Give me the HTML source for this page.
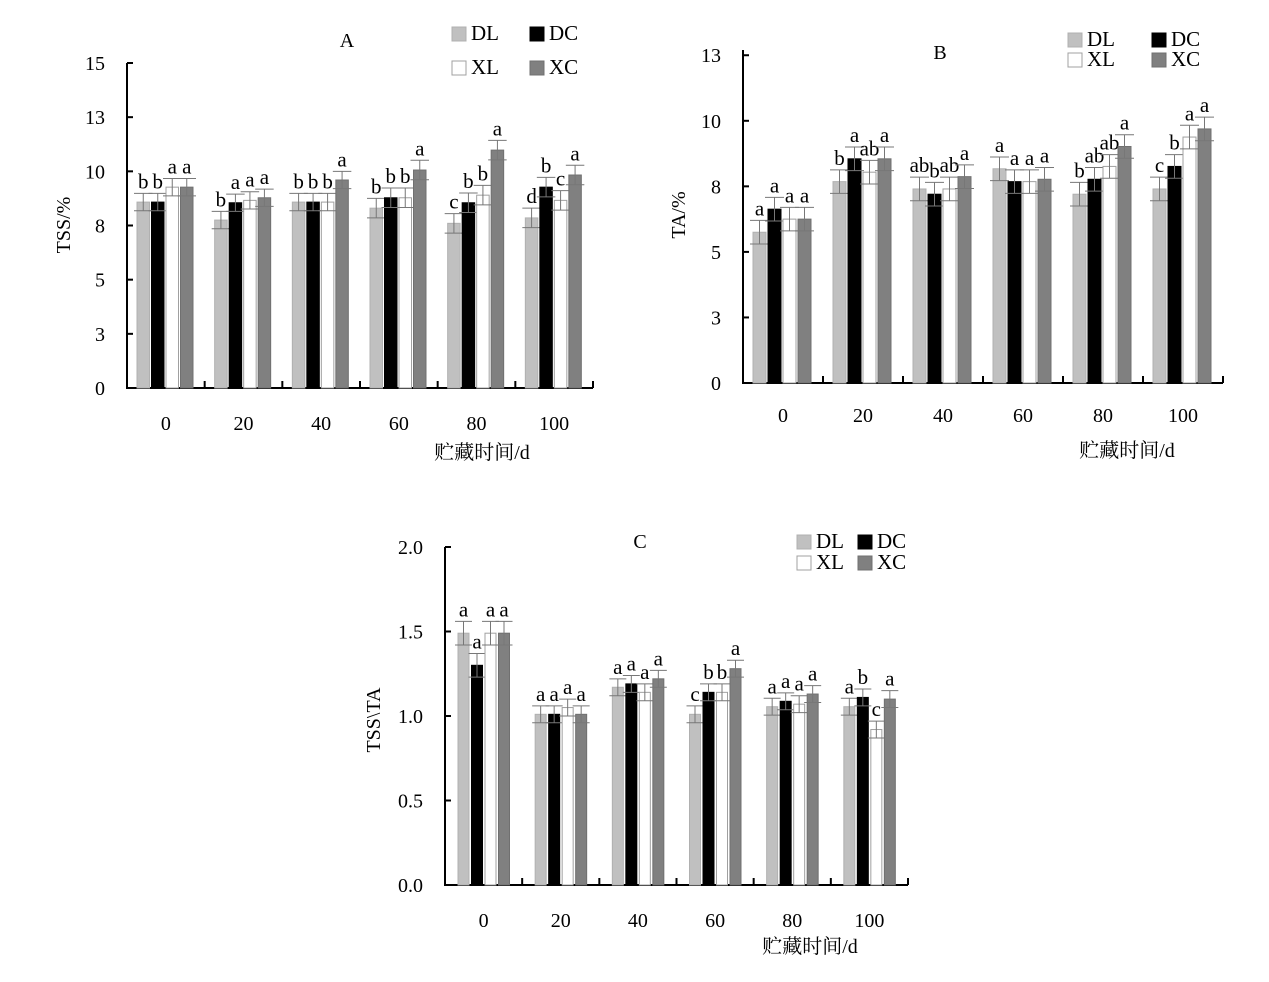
<!DOCTYPE html>
<html><head><meta charset="utf-8">
<style>
body{margin:0;background:#fff;}
svg text{font-family:"Liberation Serif","Noto Serif CJK SC",serif;fill:#000;}
</style></head>
<body>
<svg id="svg" width="1269" height="977" viewBox="0 0 1269 977" xmlns="http://www.w3.org/2000/svg"></svg>
<script>
const categories = ["0","20","40","60","80","100"];
const seriesNames = ["DL","DC","XL","XC"];
// Chart A: TSS/%
const tssDL = [8.58, 7.75, 8.58, 8.3, 7.6, 7.85];
const tssDC = [8.58, 8.55, 8.58, 8.78, 8.55, 9.27];
const tssXL = [9.27, 8.66, 8.58, 8.78, 8.9, 8.66];
const tssXC = [9.27, 8.78, 9.6, 10.06, 10.98, 9.83];
const tssErr = [0.4, 0.4, 0.4, 0.45, 0.45, 0.45];
const tssLetters = [["b","b","a","a"],["b","a","a","a"],["b","b","b","a"],["b","b","b","a"],["c","b","b","a"],["d","b","c","a"]];
const tssTicks = ["0","3","5","8","10","13","15"];
// Chart B: TA/%
const taDL = [5.75, 7.68, 7.4, 8.17, 7.2, 7.4];
const taDC = [6.63, 8.55, 7.2, 7.68, 7.77, 8.26];
const taXL = [6.25, 8.04, 7.4, 7.68, 8.26, 9.38];
const taXC = [6.25, 8.55, 7.87, 7.77, 9.02, 9.69];
const taErr = [0.45, 0.45, 0.45, 0.45, 0.45, 0.45];
const taLetters = [["a","a","a","a"],["b","a","ab","a"],["ab","b","ab","a"],["a","a","a","a"],["b","ab","ab","a"],["c","b","a","a"]];
const taTicks = ["0","3","5","8","10","13"];
// Chart C: TSS\TA
const rDL = [1.49, 1.01, 1.17, 1.01, 1.055, 1.055];
const rDC = [1.30, 1.01, 1.19, 1.14, 1.087, 1.11];
const rXL = [1.49, 1.05, 1.14, 1.14, 1.07, 0.92];
const rXC = [1.49, 1.01, 1.22, 1.28, 1.13, 1.10];
const rErr = [0.07, 0.05, 0.05, 0.05, 0.05, 0.05];
const rLetters = [["a","a","a","a"],["a","a","a","a"],["a","a","a","a"],["c","b","b","a"],["a","a","a","a"],["a","b","c","a"]];
const rTicks = ["0.0","0.5","1.0","1.5","2.0"];

const NS="http://www.w3.org/2000/svg";
const svg=document.getElementById('svg');
const fills=["#c0c0c0","#000000","#ffffff","#808080"];
const strokes=["#b0b0b0","#000000","#a0a0a0","#707070"];
function mk(tag,attrs,parent){const e=document.createElementNS(NS,tag);for(const k in attrs)e.setAttribute(k,attrs[k]);(parent||svg).appendChild(e);return e;}

function chart(c){
  const g=mk('g',{});
  
  
  const y=v=>c.y0-(v/c.max)*(c.y0-c.yTop);
  const gw=(c.x1-c.x0)/categories.length;
  const x=i=>c.x0+i*gw;
  const ya=mk('line',{x1:c.x0,y1:c.yTop,x2:c.x0,y2:c.y0+1,stroke:'#000','stroke-width':2},g);
  
  
  const xa=mk('line',{x1:c.x0-1,y1:c.y0,x2:c.x1,y2:c.y0,stroke:'#000','stroke-width':2},g);
  
  
  c.ticks.forEach((t,i)=>{
    const v=i*c.step, yy=y(v);
    mk('line',{x1:c.x0,y1:yy,x2:c.x0+6,y2:yy,stroke:'#000','stroke-width':2},g);
    const tx=mk('text',{x:c.x0-22,y:yy+7,'font-size':20,'text-anchor':'end'},g);
    tx.textContent=t;
    
    
  });
  mk('line',{x1:c.x1,y1:c.y0,x2:c.x1,y2:c.y0-7,stroke:'#000','stroke-width':2},g);
  categories.forEach((cat,i)=>{
    if(i>0) mk('line',{x1:x(i),y1:c.y0,x2:x(i),y2:c.y0-7,stroke:'#000','stroke-width':2},g);
    const tx=mk('text',{x:x(i)+gw/2,y:c.tickY,'font-size':20,'text-anchor':'middle'},g);
    tx.textContent=cat;
    
    
    c.series.forEach((s,j)=>{
      const v=s[i], bx=x(i)+c.off+j*c.pitch, by=y(v);
      const r=mk('rect',{x:bx,y:by,width:c.bw,height:c.y0-by,fill:fills[j],stroke:strokes[j],'stroke-width':1},g);
      
      
      const e=c.err[i], cx=bx+c.bw/2, yt=y(v+e), yb=y(v-e);
      const eg=mk('path',{d:`M${cx} ${yt}V${yb}M${bx-3} ${yt}H${bx+c.bw+3}M${bx-3} ${yb}H${bx+c.bw+3}`,stroke:'#777','stroke-width':1,fill:'none'},g);
      
      
      const lt=mk('text',{x:cx,y:yt-5,'font-size':21,'text-anchor':'middle'},g);
      lt.textContent=c.letters[i][j];
      
      
    });
  });
  const t=mk('text',{x:c.title[1],y:c.title[2],'font-size':20,'text-anchor':'middle'},g);
  t.textContent=c.title[0];
  
  
  const yl=mk('text',{x:c.ylab[1],y:c.ylab[2],'font-size':20,'text-anchor':'middle',transform:`rotate(-90 ${c.ylab[1]} ${c.ylab[2]})`},g);
  yl.textContent=c.ylab[0];
  
  
  const xl=mk('text',{x:c.xlab[0],y:c.xlab[1],'font-size':20,'text-anchor':'middle'},g);
  xl.textContent='贮藏时间/d';
  
  
  seriesNames.forEach((n,j)=>{
    const lx=c.leg[0]+(j%2)*c.leg[2], ly=c.leg[1]+Math.floor(j/2)*c.leg[3];
    const lg=mk('g',{},g);
    
    
    mk('rect',{x:lx,y:ly,width:14,height:14,fill:fills[j],stroke:strokes[j]},lg);
    const tt=mk('text',{x:lx+19,y:ly+13,'font-size':21},lg);
    tt.textContent=n;
  });
}
chart({name:'chart-a-tss',x0:127,x1:593,y0:388,yTop:63,max:15,step:2.5,ticks:tssTicks,series:[tssDL,tssDC,tssXL,tssXC],err:tssErr,letters:tssLetters,off:10,pitch:14.5,bw:12.5,tickY:430,title:['A',347,47],ylab:['TSS/%',70,225],xlab:[482,459],leg:[452,27,78,34]});
chart({name:'chart-b-ta',x0:743,x1:1223,y0:383,yTop:50,max:12.7,step:2.5,ticks:taTicks,series:[taDL,taDC,taXL,taXC],err:taErr,letters:taLetters,off:10,pitch:15,bw:13,tickY:422,title:['B',940,59],ylab:['TA/%',685,215],xlab:[1127,457],leg:[1068,33,84,20]});
chart({name:'chart-c-ratio',x0:445,x1:908,y0:885,yTop:547,max:2.0,step:0.5,ticks:rTicks,series:[rDL,rDC,rXL,rXC],err:rErr,letters:rLetters,off:13,pitch:13.5,bw:11,tickY:927,title:['C',640,548],ylab:['TSS\\TA',380,720],xlab:[810,953],leg:[797,535,61,21]});
</script>
</body></html>
